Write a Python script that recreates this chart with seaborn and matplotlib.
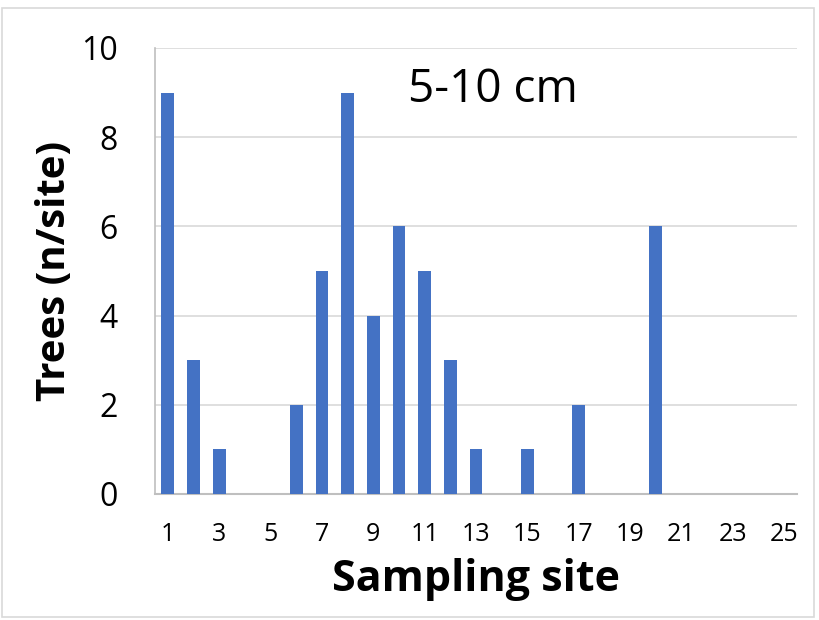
import matplotlib
matplotlib.use("Agg")
import matplotlib.pyplot as plt
import seaborn as sns
import pandas as pd
from matplotlib.patches import Rectangle

sites = list(range(1, 26))
trees = [9, 3, 1, 0, 0, 2, 5, 9, 4, 6, 5, 3, 1, 0, 1, 0, 2, 0, 0, 6, 0, 0, 0, 0, 0]
tick_labels = [str(s) for s in range(1, 26, 2)]
yticks = [0, 2, 4, 6, 8, 10]

df = pd.DataFrame({"site": sites, "trees": trees})

sns.set_style("white")
plt.rcParams['font.family'] = ['Open Sans', 'DejaVu Sans']
plt.rcParams['text.color'] = 'black'
plt.rcParams['axes.labelcolor'] = 'black'
plt.rcParams['xtick.color'] = 'black'
plt.rcParams['ytick.color'] = 'black'

fig = plt.figure(figsize=(8.19, 6.2), dpi=100)
ax = fig.add_axes([155/819, 1-494/620, (797-155)/819, (494-48)/620])

sns.barplot(data=df, x="site", y="trees", order=sites, color="#4472C4",
            saturation=1, width=0.5, ax=ax, zorder=3, linewidth=0)

ax.set_ylim(0, 10)
ax.set_xlim(-0.5, 24.5)
ax.set_yticks(yticks)
ax.set_yticklabels([str(v) for v in yticks], fontsize=23)
ax.set_xticks(list(range(0, 25, 2)))
ax.set_xticklabels(tick_labels, fontsize=18)
ax.yaxis.grid(True, color="#D9D9D9", linewidth=1.2, zorder=0)
ax.set_axisbelow(True)
for s in ["top", "right"]:
    ax.spines[s].set_visible(False)
ax.spines["left"].set_color("#BFBFBF")
ax.spines["bottom"].set_color("#BFBFBF")
ax.spines["left"].set_linewidth(1.2)
ax.spines["bottom"].set_linewidth(1.5)
ax.tick_params(axis="y", length=9, color="#D9D9D9", labelcolor="black", width=1.2, pad=18)
ax.tick_params(axis="x", length=0, labelcolor="black", pad=20)

ax.set_xlabel("Sampling site", fontsize=31, fontweight="bold", labelpad=8, color="black")
ax.set_ylabel("Trees (n/site)", fontsize=29, fontweight="bold", labelpad=5, color="black")
ax.text(0.526, 0.905, "5-10 cm", transform=ax.transAxes, fontsize=33,
        ha="center", va="center", color="black")

fig.add_artist(Rectangle((2/819, 3/620), 812/819, 1-11/620, transform=fig.transFigure,
                         fill=False, edgecolor="#D9D9D9", linewidth=1.2))

fig.savefig("out.png", dpi=100)
